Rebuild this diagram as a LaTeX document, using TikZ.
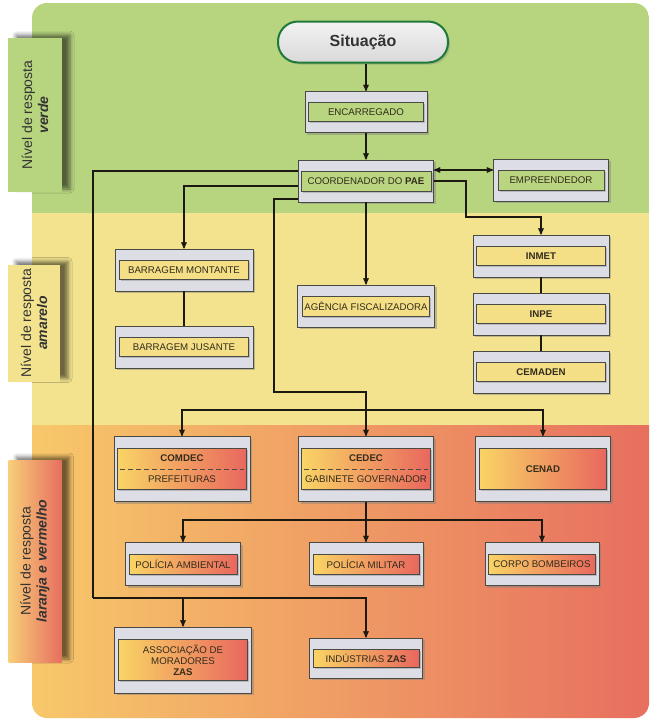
\documentclass[tikz,border=0pt]{standalone}
\usepackage{fontspec}
\setmainfont{Liberation Sans}
\usepackage{tikz}
\usetikzlibrary{arrows,positioning,shadows,shadows.blur}

\definecolor{fundoverde}{HTML}{B7D47F}
\definecolor{fundoamarelo}{HTML}{F3E38E}
\definecolor{fundolaranja}{HTML}{F7C86A}
\definecolor{fundovermelho}{HTML}{E76F5F}
\definecolor{cinzacaixa}{HTML}{DDDDE6}
\definecolor{borda}{HTML}{4A4A44}
\definecolor{texto}{HTML}{332C1C}
\definecolor{linha}{HTML}{1C1A10}
\definecolor{verdeborda}{HTML}{1F7A3A}
\definecolor{internoverde}{HTML}{B9D580}
\definecolor{internoamarelo}{HTML}{F4DF86}
\definecolor{internolaranja}{HTML}{F9D465}
\definecolor{internovermelho}{HTML}{E9675E}

\begin{document}
\begin{tikzpicture}[x=1pt, y=-1pt, >=stealth',
  caixa/.style={draw=borda, fill=cinzacaixa, line width=0.8pt, inner sep=0pt,
    minimum width=136pt, minimum height=42pt,
    drop shadow={shadow xshift=2pt, shadow yshift=-2pt, opacity=0.45}},
  caixa alta/.style={caixa, minimum height=65pt},
  caixa curta/.style={caixa, minimum width=115pt},
  rotulo/.style={draw=borda, line width=0.8pt, inner sep=0pt, text=texto, align=center,
    minimum width=129pt, minimum height=19pt,
    font=\fontsize{9.7}{11}\selectfont,
    drop shadow={shadow xshift=1.5pt, shadow yshift=-1.5pt, opacity=0.4}},
  verdein/.style={rotulo, fill=internoverde},
  amarin/.style={rotulo, fill=internoamarelo},
  larin/.style={rotulo, left color=internolaranja, right color=internovermelho},
  aba/.style={inner sep=0pt,
    blur shadow={shadow xshift=8pt, shadow yshift=3pt, shadow blur radius=4pt, shadow opacity=55}},
  abatexto/.style={rotate=90, align=center, text=black!80, font=\fontsize{14}{16}\selectfont},
  inicio/.style={rounded corners=20pt, minimum width=170pt, minimum height=41pt,
    draw=verdeborda, line width=2pt, top color=gray!10, bottom color=gray!30,
    text=black!80, font=\bfseries\fontsize{16}{18}\selectfont,
    drop shadow={shadow xshift=2pt, shadow yshift=-2pt, opacity=0.35}},
  conector/.style={draw=linha, line width=1.3pt}]

\useasboundingbox (0,0) rectangle (661,724);

% faixas de fundo
\begin{scope}
  \clip[rounded corners=15pt] (32,3) rectangle (649,718);
  \fill[fundoverde] (32,3) rectangle (649,213);
  \fill[fundoamarelo] (32,213) rectangle (649,425);
  \shade[left color=fundolaranja, right color=fundovermelho] (32,425) rectangle (649,718);
\end{scope}

% abas laterais
\node [aba, fill=fundoverde, minimum width=54pt, minimum height=154pt] at (35,115) (aba1) {};
\node [abatexto] at (aba1) {Nível de resposta\\\textbf{\textit{verde}}};
\node [aba, fill=fundoamarelo, minimum width=52pt, minimum height=117pt] at (34,323) (aba2) {};
\node [abatexto] at (aba2) {Nível de resposta\\\textbf{\textit{amarelo}}};
\node [aba, left color=fundolaranja!90!white, right color=fundovermelho, minimum width=53pt, minimum height=202pt] at (35,561) (aba3) {};
\node [abatexto] at (aba3) {Nível de resposta\\\textbf{\textit{laranja e vermelho}}};

% nivel verde
\node [inicio] at (363,42) (sit) {Situação};
\node [caixa, minimum width=122pt, minimum height=41pt] at (366,112) (enc) {};
\node [verdein, minimum width=115pt] at (enc) (enc-in) {ENCARREGADO};
\node [caixa, minimum width=135pt] at (366,181) (coord) {};
\node [verdein, minimum width=130pt, minimum height=20pt] at (coord) (coord-in) {COORDENADOR DO \textbf{PAE}};
\node [caixa curta] at (551,180) (emp) {};
\node [verdein, minimum width=106pt, minimum height=20pt] at (emp) (emp-in) {EMPREENDEDOR};

% nivel amarelo
\node [caixa, minimum width=138pt] at (184,270) (bm) {};
\node [amarin] at (bm) (bm-in) {BARRAGEM MONTANTE};
\node [caixa, minimum width=138pt] at (184,347) (bj) {};
\node [amarin] at (bj) (bj-in) {BARRAGEM JUSANTE};
\node [caixa, minimum width=137pt] at (366,306) (agf) {};
\node [amarin, minimum width=127pt, minimum height=20pt] at (agf) (agf-in) {AGÊNCIA FISCALIZADORA};
\node [caixa] at (541,256) (inmet) {};
\node [amarin] at (inmet) (inmet-in) {\textbf{INMET}};
\node [caixa] at (541,314) (inpe) {};
\node [amarin] at (inpe) (inpe-in) {\textbf{INPE}};
\node [caixa] at (541,372) (cemaden) {};
\node [amarin] at (cemaden) (cemaden-in) {\textbf{CEMADEN}};

% nivel laranja e vermelho
\node [caixa alta] at (182,469) (comdec) {};
\node [larin, minimum height=41pt] at (comdec) (comdec-in) {\textbf{COMDEC}\\[10pt]PREFEITURAS};
\node [caixa alta, minimum width=135pt] at (366,469) (cedec) {};
\node [larin, minimum height=41pt] at (cedec) (cedec-in) {\textbf{CEDEC}\\[10pt]GABINETE GOVERNADOR};
\node [caixa alta, minimum width=135pt] at (543,469) (cenad) {};
\node [larin, minimum width=127pt, minimum height=41pt] at (cenad) (cenad-in) {\textbf{CENAD}};
\draw [borda, line width=1pt, dash pattern=on 5pt off 3pt] ([xshift=3pt]comdec-in.west) -- ([xshift=-3pt]comdec-in.east);
\draw [borda, line width=1pt, dash pattern=on 5pt off 3pt] ([xshift=3pt]cedec-in.west) -- ([xshift=-3pt]cedec-in.east);

\node [caixa curta, minimum height=43pt] at (183,564) (pamb) {};
\node [larin, minimum width=108pt, minimum height=20pt] at (pamb) (pamb-in) {POLÍCIA AMBIENTAL};
\node [caixa curta, minimum width=114pt, minimum height=43pt] at (366,564) (pmil) {};
\node [larin, minimum width=106pt, minimum height=20pt] at (pmil) (pmil-in) {POLÍCIA MILITAR};
\node [caixa curta, minimum width=114pt, minimum height=43pt] at (542,564) (cbomb) {};
\node [larin, minimum width=107pt, minimum height=20pt] at (cbomb) (cbomb-in) {CORPO BOMBEIROS};

\node [caixa alta, minimum width=137pt, minimum height=66pt] at (183,660) (assoc) {};
\node [larin, minimum height=41pt] at (assoc) (assoc-in) {ASSOCIAÇÃO DE\\MORADORES\\\textbf{ZAS}};
\node [caixa, minimum width=113pt, minimum height=40pt] at (366,658) (ind) {};
\node [larin, minimum width=106pt, minimum height=18pt] at (ind) (ind-in) {INDÚSTRIAS \textbf{ZAS}};

% pontos de dobra
\coordinate (dobraInmet) at (466,217);
\coordinate (dobraCedec) at (274,392);
\coordinate (barra1) at (366,410);
\coordinate (barra2) at (366,520);
\coordinate (dobraEsq) at (93,598);

% conectores
\path[conector, ->]
  (enc) edge (coord)
  (coord) edge (agf)
  (cedec) edge (pmil);
\path[conector]
  (bm) edge (bj)
  (inmet) edge (inpe)
  (inpe) edge (cemaden);
\draw[conector, ->] (sit.south -| enc.north) -- (enc.north);
\draw[conector, <->] ([yshift=11pt]coord.east) -- ([yshift=11pt]coord.east -| emp.west);
\draw[conector, ->] (coord.east) -| (dobraInmet) -| (inmet.north);
\draw[conector, ->] ([yshift=-5pt]coord.west) -| (bm.north);
\draw[conector, ->] ([yshift=-18pt]coord.west) -| (dobraCedec) -| (cedec.north);
\draw[conector, ->] (barra1) -| (comdec.north);
\draw[conector, ->] (barra1) -| (cenad.north);
\draw[conector, ->] (barra2) -| (pamb.north);
\draw[conector, ->] (barra2) -| (cbomb.north);
\draw[conector] ([yshift=10pt]coord.west) -| (dobraEsq);
\draw[conector, ->] (dobraEsq) -| (assoc.north);
\draw[conector, ->] (dobraEsq) -| (ind.north);
\end{tikzpicture}
\end{document}
